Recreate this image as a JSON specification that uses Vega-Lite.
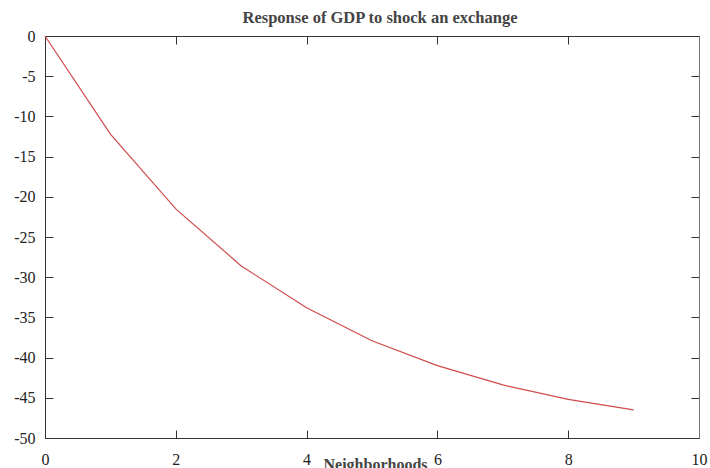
{
  "$schema": "https://vega.github.io/schema/vega-lite/v6.json",
  "width": 654,
  "height": 402,
  "autosize": {"type": "none"},
  "padding": {"left": 45, "top": 36, "right": 11, "bottom": 30},
  "background": "white",
  "title": {"text": "Response of GDP to shock an exchange", "font": "Liberation Serif", "fontSize": 16.5, "fontWeight": "bold", "color": "#444", "offset": 2, "dx": 8},
  "config": {"view": {"stroke": null}, "axis": {"grid": false, "domainColor": "#333", "tickColor": "#333", "labelFont": "Liberation Serif", "labelColor": "#222", "labelFontSize": 16}},
  "data": {"values": [
    {"x": 0, "y": 0},
    {"x": 1, "y": -12.2},
    {"x": 2, "y": -21.5},
    {"x": 3, "y": -28.6},
    {"x": 4, "y": -33.8},
    {"x": 5, "y": -37.9},
    {"x": 6, "y": -41.0},
    {"x": 7, "y": -43.4},
    {"x": 8, "y": -45.2},
    {"x": 9, "y": -46.5}
  ]},
  "layer": [
    {
      "mark": {"type": "line", "color": "#d04a4a", "strokeWidth": 1.2},
      "encoding": {
        "x": {"field": "x", "type": "quantitative", "scale": {"domain": [0, 10], "nice": false},
          "axis": {"orient": "bottom", "values": [0, 2, 4, 6, 8, 10], "tickSize": -8, "labelPadding": 21, "title": "Neighborhoods", "titleFont": "Liberation Serif", "titleFontSize": 16, "titleFontWeight": "bold", "titleColor": "#444", "titleBaseline": "alphabetic", "titleY": 31, "titleX": 330, "labelFlush": false, "labelExpr": "toString(datum.value)"}},
        "y": {"field": "y", "type": "quantitative", "scale": {"domain": [-50, 0], "nice": false},
          "axis": {"orient": "left", "values": [0, -5, -10, -15, -20, -25, -30, -35, -40, -45, -50], "tickSize": -8, "labelPadding": 18, "title": null, "labelFlush": false, "labelExpr": "toString(datum.value)"}}
      }
    },
    {
      "mark": {"type": "line", "opacity": 0},
      "encoding": {
        "x": {"field": "x", "type": "quantitative", "scale": {"domain": [0, 10], "nice": false},
          "axis": {"orient": "top", "values": [0, 2, 4, 6, 8, 10], "tickSize": -8, "labels": false, "title": null}},
        "y": {"field": "y", "type": "quantitative", "scale": {"domain": [-50, 0], "nice": false},
          "axis": {"orient": "right", "values": [0, -5, -10, -15, -20, -25, -30, -35, -40, -45, -50], "tickSize": -8, "labels": false, "title": null, "domainColor": "#777"}}
      }
    }
  ],
  "resolve": {"axis": {"x": "independent", "y": "independent"}}
}
